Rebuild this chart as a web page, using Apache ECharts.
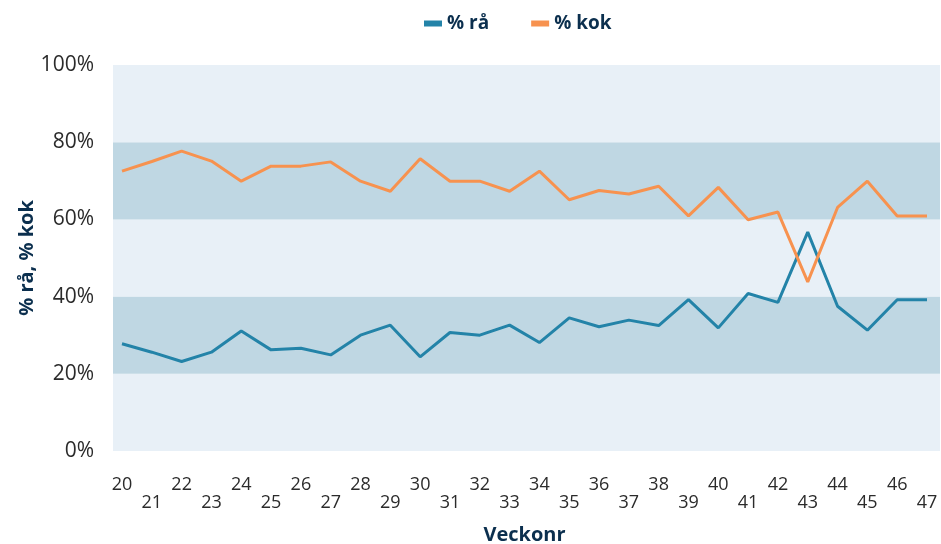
<!DOCTYPE html>
<html>
<head>
<meta charset="utf-8">
<script src="https://cdn.jsdelivr.net/npm/echarts@6/dist/echarts.min.js"></script>
<style>
    html, body { margin: 0; padding: 0; background: #fff; }
    #chart { width: 941px; height: 544px; }
</style>
</head>
<body>
<div id="chart"></div>
<script>
    // veckor och andelar (%)
    var weeks = ['20','21','22','23','24','25','26','27','28','29','30','31','32','33',
                 '34','35','36','37','38','39','40','41','42','43','44','45','46','47'];
    var raw = [27.8, 25.6, 23.2, 25.6, 31.1, 26.2, 26.6, 24.9, 30.0, 32.6, 24.4, 30.7, 30.0, 32.6,
               28.1, 34.5, 32.2, 33.9, 32.5, 39.2, 31.9, 40.8, 38.5, 56.7, 37.5, 31.3, 39.2, 39.2];
    var cooked = [72.5, 75.0, 77.7, 75.1, 69.9, 73.8, 73.8, 74.9, 69.9, 67.3, 75.7, 69.9, 69.9, 67.3,
                  72.5, 65.1, 67.5, 66.6, 68.6, 60.9, 68.3, 59.9, 61.9, 43.8, 63.1, 69.9, 60.9, 60.9];
    var yTicks = [0, 20, 40, 60, 80, 100];

    var navy = '#0b2f4e';
    var font = 'Open Sans';

    var myChart = echarts.init(document.getElementById('chart'));
    var options = {
        animation: false,
        textStyle: { fontFamily: font },
        legend: {
            top: 9,
            left: 419,
            itemWidth: 18,
            itemHeight: 6,
            itemGap: 42,
            icon: 'rect',
            textStyle: { color: navy, fontSize: 19, fontWeight: 'bold', fontFamily: font },
            data: ['% rå', '% kok']
        },
        grid: [
            // bakgrundsband
            { left: 113, right: 1, top: 65, bottom: 93, outerBoundsMode: 'none' },
            // linjerna
            { left: 122, right: 14, top: 65, bottom: 93, outerBoundsMode: 'none' }
        ],
        xAxis: [
            { gridIndex: 0, type: 'value', show: false, min: 0, max: 1 },
            {
                gridIndex: 1,
                type: 'category',
                data: weeks,
                boundaryGap: false,
                axisLine: { show: false },
                axisTick: { show: false },
                axisLabel: {
                    interval: 0,
                    margin: 25,
                    fontSize: 18,
                    lineHeight: 18,
                    color: '#2b2b2b',
                    fontFamily: font,
                    formatter: function (v, i) {
                        return i % 2 === 1 ? '\n' + v : v;
                    }
                },
                name: 'Veckonr',
                nameLocation: 'middle',
                nameGap: 74,
                nameMoveOverlap: false,
                nameTextStyle: { color: navy, fontSize: 20, fontWeight: 'bold', fontFamily: font }
            }
        ],
        yAxis: [
            {
                gridIndex: 0,
                type: 'value',
                min: yTicks[0],
                max: yTicks[yTicks.length - 1],
                interval: 20,
                axisLine: { show: false },
                axisTick: { show: false },
                splitLine: { show: false },
                splitArea: {
                    show: true,
                    areaStyle: { color: ['#e8f0f7', '#bfd7e3'] }
                },
                axisLabel: {
                    margin: 19,
                    fontSize: 21,
                    color: '#2b2b2b',
                    fontFamily: font,
                    formatter: '{value}%'
                },
                name: '% rå, % kok',
                nameLocation: 'middle',
                nameGap: 76,
                nameMoveOverlap: false,
                nameTextStyle: { color: navy, fontSize: 20, fontWeight: 'bold', fontFamily: font }
            },
            {
                gridIndex: 1,
                type: 'value',
                min: 0,
                max: 100,
                show: false,
                splitLine: { show: false }
            }
        ],
        series: [
            {
                name: '% rå',
                type: 'line',
                xAxisIndex: 1,
                yAxisIndex: 1,
                data: raw,
                showSymbol: false,
                symbol: 'none',
                color: '#2383a8',
                lineStyle: { width: 3, color: '#2383a8' }
            },
            {
                name: '% kok',
                type: 'line',
                xAxisIndex: 1,
                yAxisIndex: 1,
                data: cooked,
                showSymbol: false,
                symbol: 'none',
                color: '#f7924f',
                lineStyle: { width: 3, color: '#f7924f' }
            }
        ]
    };
    myChart.setOption(options);
</script>
</body>
</html>
